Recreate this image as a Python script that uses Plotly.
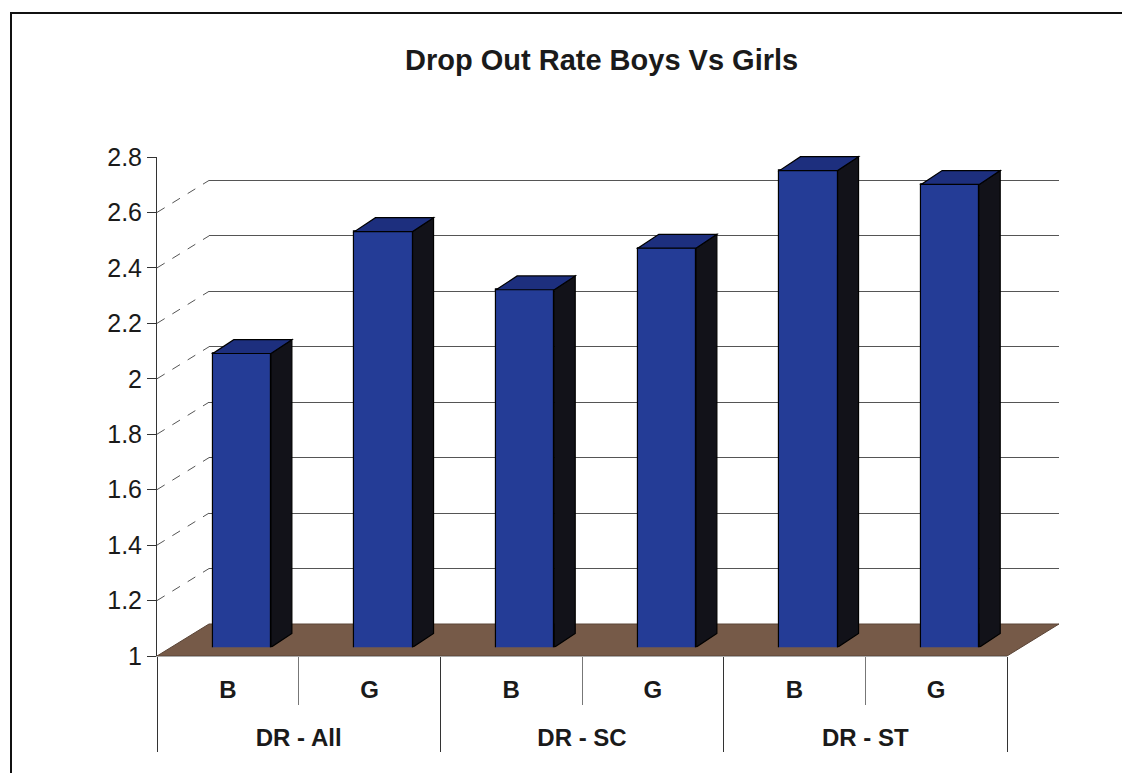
import plotly.graph_objects as go

# ---------------- data ----------------
groups = ["DR - All", "DR - SC", "DR - ST"]
genders = ["B", "G"]
boys = [2.06, 2.29, 2.72]
girls = [2.50, 2.44, 2.67]
y_ticks = [1, 1.2, 1.4, 1.6, 1.8, 2, 2.2, 2.4, 2.6, 2.8]
title_text = "Drop Out Rate Boys Vs Girls"

# flatten into bar order
cat_outer, cat_inner, values = [], [], []
for g, b, gl in zip(groups, boys, girls):
    for gen, v in zip(genders, [b, gl]):
        cat_outer.append("<br>" + g)
        cat_inner.append(gen)
        values.append(v)
idx = list(range(len(values)))

# ---------------- layout geometry (pixels of the 1130x781 page) ----------------
OFF = 8                 # default page margin around the plot div
W, H = 1130 - 2 * OFF, 781 - 2 * OFF
def px(x):
    return (x - OFF) / W
def py(y):
    return 1 - (y - OFF) / H

FL, FR = 157, 1007      # front edge left / right
FT, FB = 157, 656       # y of axis max / min at the front
DDX, DDY = 52, 32       # depth offset of back wall
BF = 0.27               # depth fraction of bar front faces
YMIN, YMAX = y_ticks[0], y_ticks[-1]

BAR_W = 0.41
SIDE_DX = 0.148         # bar depth in x units
SIDE_DY = 0.05          # bar depth in y units

FRONT_C = "#243c96"
TOP_C = "#1d2f7e"
SIDE_C = "#121219"
FLOOR_C = "#765a48"
FONT = "Liberation Sans, Arial, sans-serif"

fig = go.Figure()

# front subplot (axes and category labels)
fig.add_trace(go.Bar(
    x=[cat_outer, cat_inner], y=values,
    marker=dict(color="rgba(0,0,0,0)", line=dict(width=0)),
    hoverinfo="skip", showlegend=False, xaxis="x", yaxis="y",
))
# back wall subplot (gridlines)
fig.add_trace(go.Scatter(x=[None], y=[None], mode="lines", showlegend=False,
                         hoverinfo="skip", xaxis="x2", yaxis="y2"))
# bars subplot
fig.add_trace(go.Bar(
    x=idx, y=values, width=BAR_W,
    marker=dict(color=FRONT_C, line=dict(color="#000000", width=1.2)),
    showlegend=False, xaxis="x3", yaxis="y3",
    hovertemplate="%{y}<extra></extra>",
))

shapes = []
# floor
shapes.append(dict(
    type="path", xref="paper", yref="paper", layer="below",
    path=(f"M {px(FL)},{py(FB)} L {px(FR)},{py(FB)} "
          f"L {px(FR + DDX)},{py(FB - DDY)} L {px(FL + DDX)},{py(FB - DDY)} Z"),
    fillcolor=FLOOR_C, line=dict(color="#5a4436", width=1),
))
# side-wall diagonal gridlines
for v in y_ticks[1:-1]:
    yf = FB - (v - YMIN) / (YMAX - YMIN) * (FB - FT)
    shapes.append(dict(
        type="line", xref="paper", yref="paper", layer="below",
        x0=px(FL), y0=py(yf), x1=px(FL + DDX), y1=py(yf - DDY),
        line=dict(color="#555555", width=1, dash="dash"),
    ))
# 3D faces of the bars
for i, v in zip(idx, values):
    xl, xr = i - BAR_W / 2, i + BAR_W / 2
    shapes.append(dict(
        type="path", xref="x3", yref="y3", layer="above",
        path=(f"M {xr},{YMIN} L {xr},{v} L {xr + SIDE_DX},{v + SIDE_DY} "
              f"L {xr + SIDE_DX},{YMIN + SIDE_DY} Z"),
        fillcolor=SIDE_C, line=dict(color="#000000", width=1.2),
    ))
    shapes.append(dict(
        type="path", xref="x3", yref="y3", layer="above",
        path=(f"M {xl},{v} L {xr},{v} L {xr + SIDE_DX},{v + SIDE_DY} "
              f"L {xl + SIDE_DX},{v + SIDE_DY} Z"),
        fillcolor=TOP_C, line=dict(color="#000000", width=1.2),
    ))
# outer frame
shapes.append(dict(
    type="rect", xref="paper", yref="paper", layer="above",
    x0=px(11), y0=-0.05, x1=1.05, y1=py(13),
    line=dict(color="#111111", width=2), fillcolor="rgba(0,0,0,0)",
))

fig.update_layout(
    width=W, height=H,
    margin=dict(l=0, r=0, t=0, b=0),
    paper_bgcolor="white", plot_bgcolor="rgba(0,0,0,0)",
    font=dict(family=FONT, color="#111111"),
    showlegend=False, bargap=0,
    shapes=shapes,
    annotations=[dict(
        text=title_text, xref="paper", yref="paper",
        x=px(601), y=py(60), xanchor="center", yanchor="middle",
        showarrow=False, font=dict(size=29, family=FONT, weight="bold", color="#1a1a1a"),
    )],
    xaxis=dict(
        type="multicategory", domain=[px(FL), px(FR)], anchor="y",
        showline=True, linecolor="#aaaaaa", linewidth=1,
        showgrid=False, zeroline=False,
        showdividers=True, dividercolor="#333333", dividerwidth=1,
        ticks="outside", tickson="boundaries", ticklen=48, tickcolor="#777777",
        ticklabelstandoff=12,
        tickfont=dict(size=24, family=FONT, weight="bold", color="#1a1a1a"),
        automargin=False, fixedrange=True,
    ),
    yaxis=dict(
        domain=[py(FB), py(FT)], anchor="x", range=[YMIN, YMAX],
        tickmode="array", tickvals=y_ticks,
        showgrid=False, zeroline=False,
        showline=True, linecolor="#333333", linewidth=1,
        ticks="outside", ticklen=9, tickcolor="#333333",
        tickfont=dict(size=25, family=FONT, color="#1a1a1a"),
        automargin=False, fixedrange=True,
    ),
    xaxis2=dict(
        domain=[px(FL + DDX), px(FR + DDX)], anchor="y2", range=[0, 1],
        visible=False, fixedrange=True,
    ),
    yaxis2=dict(
        domain=[py(FB - DDY), py(FT - DDY)], anchor="x2", range=[YMIN, YMAX],
        tickmode="array", tickvals=y_ticks[1:-1],
        showgrid=True, gridcolor="#555555", gridwidth=1,
        showticklabels=False, ticks="", showline=False, zeroline=False,
        fixedrange=True,
    ),
    xaxis3=dict(
        domain=[px(FL + BF * DDX), px(FR + BF * DDX)], anchor="y3",
        range=[-0.5, len(values) - 0.5], visible=False, fixedrange=True,
    ),
    yaxis3=dict(
        domain=[py(FB - BF * DDY), py(FT - BF * DDY)], anchor="x3",
        range=[YMIN, YMAX], visible=False, fixedrange=True,
    ),
)

fig.write_html("out.html")
